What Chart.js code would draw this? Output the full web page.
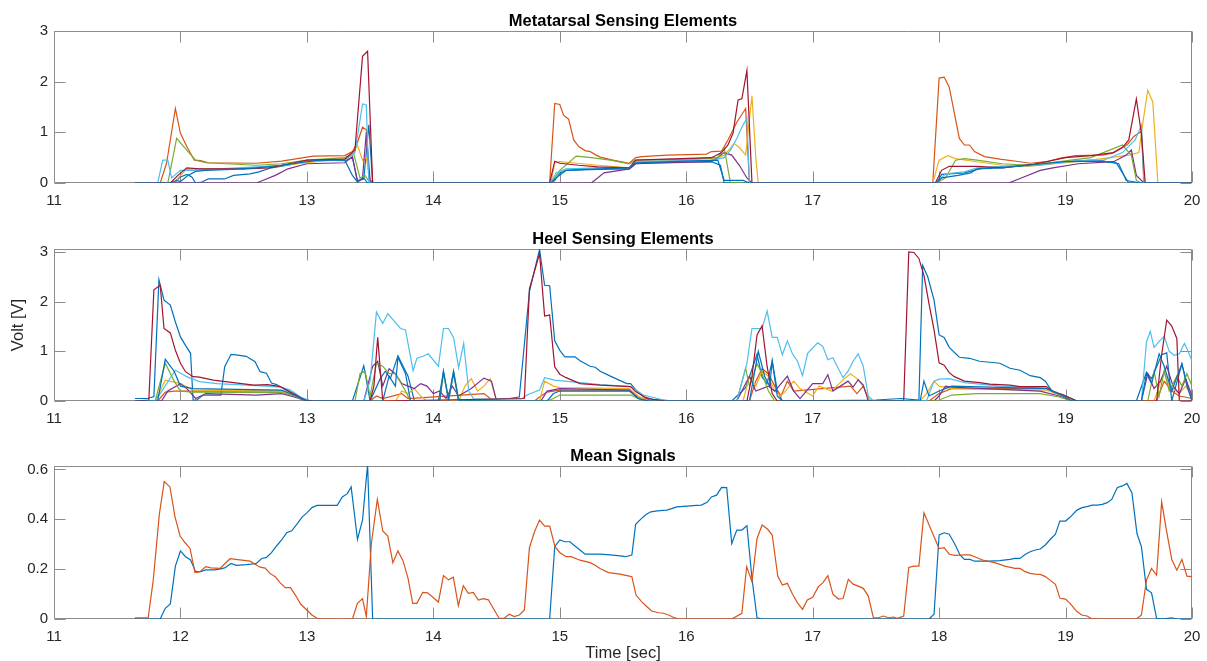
<!DOCTYPE html>
<html>
<head>
<meta charset="utf-8">
<script src="https://cdn.jsdelivr.net/npm/chart.js@4.4.1/dist/chart.umd.min.js"></script>
<style>
  body { margin: 0; background: #fff; }
  #wrap { position: relative; width: 1207px; height: 661px; background: #fff; }
  .plot { position: absolute; left: 0; width: 1207px; }
  #c1 { top: 0; height: 215px; }
  #c2 { top: 218px; height: 215px; }
  #c3 { top: 435px; height: 226px; }
</style>
</head>
<body>
<div id="wrap">
  <div class="plot" id="c1"><canvas id="metaChart"></canvas></div>
  <div class="plot" id="c2"><canvas id="heelChart"></canvas></div>
  <div class="plot" id="c3"><canvas id="meanChart"></canvas></div>
</div>
<script>
// ---------------------------------- data (time [sec], volt) ----------------------------------
const timeTicks = [11, 12, 13, 14, 15, 16, 17, 18, 19, 20];
const voltTicks = [0, 1, 2, 3];
const meanTicks = [0, 0.2, 0.4, 0.6];
const meanTickLabels = ['0', '0.2', '0.4', '0.6'];

// MATLAB default colour order
const lineColors = ['#0072BD', '#D95319', '#EDB120', '#7E2F8E', '#77AC30', '#4DBEEE', '#A2142F', '#0072BD'];

// --- metatarsal sensing elements ---
const metaBlue = [[11.64,0],[11.95,0],[12.0,0.12],[12.05,0.17],[12.09,0.12],[12.12,0],[12.17,0.02],[12.22,0.08],[12.35,0.08],[12.42,0.15],[12.55,0.18],[12.62,0.22],[12.72,0.3],[12.85,0.35],[13.0,0.42],[13.1,0.45],[13.3,0.44],[13.36,0.5],[13.4,0.05],[13.45,0.08],[13.49,1.15],[13.52,0],
  [14.92,0],[14.96,0.05],[15.0,0.2],[15.05,0.25],[15.3,0.27],[15.55,0.28],[15.6,0.38],[15.7,0.4],[16.2,0.42],[16.27,0.35],[16.3,0],
  [17.98,0],[18.02,0.17],[18.2,0.2],[18.35,0.3],[18.75,0.37],[19.0,0.42],[19.2,0.45],[19.4,0.4],[19.5,0],[20,0]];
const metaOrange = [[11.64,0],[11.84,0],[11.89,0.39],[11.96,1.47],[12.0,0.98],[12.05,0.72],[12.11,0.45],[12.16,0.44],[12.22,0.4],[12.6,0.39],[12.8,0.43],[12.95,0.49],[13.05,0.53],[13.3,0.54],[13.36,0.62],[13.4,0.8],[13.44,1.1],[13.47,1.05],[13.49,0.1],[13.52,0],
  [14.92,0],[14.96,1.57],[15.0,1.55],[15.03,1.34],[15.07,1.26],[15.11,0.85],[15.15,0.72],[15.2,0.64],[15.24,0.62],[15.28,0.56],[15.32,0.51],[15.42,0.45],[15.55,0.39],[15.6,0.5],[15.65,0.52],[15.85,0.55],[16.16,0.57],[16.2,0.62],[16.28,0.63],[16.33,0.85],[16.4,1.2],[16.47,1.47],[16.5,0],
  [17.95,0],[18.0,2.07],[18.04,2.09],[18.08,1.89],[18.16,0.88],[18.2,0.75],[18.24,0.75],[18.28,0.62],[18.36,0.52],[18.48,0.47],[18.64,0.42],[18.72,0.39],[18.85,0.42],[18.96,0.49],[19.08,0.54],[19.29,0.55],[19.37,0.59],[19.49,0.76],[19.54,0.92],[19.6,1.02],[19.62,0],[20,0]];
const metaYellow = [[11.64,0],[11.95,0],[12.0,0.15],[12.05,0.27],[12.15,0.28],[12.5,0.28],[12.7,0.32],[13.0,0.4],[13.3,0.48],[13.36,0.55],[13.4,0.75],[13.44,0.45],[13.47,0.5],[13.5,0.05],[13.53,0],
  [14.93,0],[14.96,0.4],[15.0,0.42],[15.1,0.4],[15.3,0.35],[15.55,0.3],[15.6,0.42],[16.0,0.45],[16.25,0.5],[16.3,0.55],[16.38,0.78],[16.42,0.7],[16.47,0.55],[16.52,1.72],[16.55,0.5],[16.57,0],
  [17.95,0],[18.0,0.45],[18.07,0.54],[18.13,0.48],[18.3,0.42],[18.5,0.35],[18.7,0.33],[19.0,0.4],[19.2,0.45],[19.5,0.55],[19.58,0.6],[19.6,1.0],[19.65,1.83],[19.69,1.6],[19.73,0],[20,0]];
const metaPurple = [[11.64,0],[12.6,0],[12.65,0.05],[12.75,0.15],[12.85,0.28],[13.0,0.38],[13.3,0.4],[13.36,0.52],[13.4,0.02],[13.44,0.1],[13.47,1.0],[13.5,0.05],[13.52,0],
  [15.25,0],[15.35,0.2],[15.55,0.28],[15.6,0.38],[16.2,0.42],[16.3,0.6],[16.36,0.55],[16.42,0.35],[16.48,0.1],[16.52,0],
  [18.55,0],[18.65,0.1],[18.8,0.25],[18.9,0.3],[19.1,0.38],[19.38,0.42],[19.48,0.55],[19.52,0.65],[19.56,0.15],[19.62,0],[20,0]];
const metaGreen = [[11.64,0],[11.9,0],[11.97,0.88],[12.05,0.65],[12.12,0.45],[12.2,0.4],[12.6,0.35],[12.8,0.38],[13.0,0.45],[13.3,0.5],[13.37,0.58],[13.42,0.1],[13.46,0.15],[13.5,0],
  [14.93,0],[15.0,0.25],[15.13,0.53],[15.25,0.5],[15.4,0.45],[15.55,0.38],[15.6,0.45],[16.0,0.47],[16.25,0.5],[16.3,0.7],[16.35,0],
  [17.98,0],[18.05,0.1],[18.13,0.45],[18.2,0.48],[18.3,0.45],[18.5,0.38],[18.7,0.35],[18.95,0.42],[19.2,0.5],[19.45,0.75],[19.52,0.55],[19.56,0.05],[19.6,0],[20,0]];
const metaLightBlue = [[11.64,0],[11.82,0],[11.86,0.45],[11.9,0.45],[11.93,0.1],[12.0,0.25],[12.1,0.25],[12.3,0.28],[12.6,0.32],[12.8,0.35],[13.0,0.43],[13.3,0.45],[13.38,0.6],[13.44,1.56],[13.47,1.54],[13.49,0],
  [14.93,0],[14.97,0.2],[15.05,0.28],[15.3,0.3],[15.55,0.3],[15.6,0.42],[16.2,0.45],[16.3,0.5],[16.35,0.65],[16.4,0.88],[16.44,1.1],[16.48,1.28],[16.5,0],
  [17.98,0],[18.05,0.18],[18.2,0.22],[18.3,0.3],[18.5,0.32],[18.8,0.35],[19.0,0.42],[19.3,0.45],[19.45,0.6],[19.55,0.85],[19.6,1.14],[19.62,0],[20,0]];
const metaDarkRed = [[11.64,0],[11.92,0],[11.98,0.15],[12.05,0.3],[12.15,0.28],[12.5,0.28],[12.7,0.3],[12.9,0.4],[13.0,0.45],[13.3,0.47],[13.38,0.65],[13.44,2.5],[13.48,2.6],[13.52,0],
  [14.92,0],[14.96,0.43],[15.0,0.39],[15.15,0.35],[15.3,0.32],[15.55,0.3],[15.6,0.45],[16.2,0.5],[16.28,0.6],[16.33,0.75],[16.37,0.98],[16.41,1.64],[16.44,1.66],[16.48,2.22],[16.52,0],
  [17.97,0],[18.02,0.25],[18.08,0.33],[18.3,0.33],[18.5,0.3],[18.75,0.37],[19.0,0.5],[19.2,0.54],[19.38,0.6],[19.45,0.7],[19.5,0.85],[19.56,1.66],[19.6,0.97],[19.63,0],[20,0]];
const metaBlue2 = [[11.64,0],[11.92,0],[11.97,0.05],[12.0,0.03],[12.06,0.15],[12.12,0.23],[12.2,0.25],[12.4,0.27],[12.6,0.3],[12.8,0.35],[13.0,0.42],[13.1,0.45],[13.3,0.45],[13.36,0.15],[13.4,0.02],[13.45,0.1],[13.48,0],
  [14.93,0],[14.97,0.1],[15.05,0.25],[15.2,0.27],[15.55,0.3],[15.6,0.4],[16.0,0.43],[16.25,0.45],[16.3,0.05],[16.45,0.05],[16.5,0],
  [17.98,0],[18.02,0.1],[18.15,0.15],[18.25,0.2],[18.3,0.28],[18.5,0.3],[18.7,0.35],[18.9,0.4],[19.0,0.42],[19.3,0.43],[19.42,0.38],[19.48,0.05],[19.55,0.02],[19.6,0],[20,0]];

// --- heel sensing elements ---
const heelBlue = [[11.64,0.05],[11.74,0.05],[11.79,0.09],[11.83,2.44],[11.87,2.03],[11.92,1.93],[11.96,1.59],[12.0,1.29],[12.04,1.12],[12.08,0.96],[12.1,0.02],[12.13,0.02],[12.18,0.12],[12.32,0.12],[12.35,0.69],[12.4,0.94],[12.44,0.93],[12.52,0.9],[12.59,0.79],[12.63,0.59],[12.68,0.56],[12.72,0.36],[12.76,0.33],[12.84,0.21],[12.88,0.16],[12.96,0.06],[13.03,0],
  [13.36,0],[13.45,0.71],[13.5,0],[13.58,0.45],[13.62,0.6],[13.66,0.45],[13.72,0.91],[13.8,0.5],[13.85,0],[14.04,0],[14.08,0.59],[14.12,0],[14.16,0.55],[14.2,0],[14.6,0.05],[14.68,0.08],
  [14.76,2.2],[14.8,2.63],[14.84,3.05],[14.88,2.33],[14.92,2.32],[14.96,1.21],[15.0,1.02],[15.04,0.89],[15.12,0.89],[15.16,0.81],[15.24,0.7],[15.28,0.68],[15.32,0.6],[15.4,0.5],[15.47,0.42],[15.53,0.35],[15.56,0.35],[15.6,0.23],[15.66,0.09],[15.74,0.03],[15.92,0],
  [16.36,0],[16.47,0.27],[16.56,0.94],[16.6,0.48],[16.64,0.35],[16.68,0.81],[16.72,0.21],[16.76,0],[17.5,0.02],[17.7,0.05],
  [17.84,0.02],[17.87,2.73],[17.91,2.5],[17.96,2.03],[18.0,1.33],[18.04,1.28],[18.08,1.08],[18.16,0.88],[18.24,0.86],[18.32,0.8],[18.4,0.78],[18.48,0.76],[18.56,0.66],[18.64,0.62],[18.72,0.51],[18.8,0.47],[18.84,0.4],[18.9,0.17],[18.98,0.13],[19.09,0],
  [19.56,0],[19.64,0.58],[19.68,0.45],[19.72,0.69],[19.76,0.93],[19.8,0.97],[19.84,0],[19.92,0.75],[19.96,0.35],[20,0]];
const heelOrange = [[11.64,0],[11.82,0],[11.88,0.18],[11.95,0.2],[12.8,0.2],[12.9,0.1],[13.0,0],
  [13.5,0],[13.55,0.1],[13.6,0.05],[13.75,0.15],[13.8,0.05],[14.4,0.15],[14.45,0.05],[14.5,0],
  [14.8,0],[14.85,0.1],[14.9,0.18],[15.0,0.22],[15.55,0.22],[15.62,0.08],[15.75,0],
  [16.5,0],[16.55,0.4],[16.6,0.65],[16.65,0.55],[16.7,0.3],[16.75,0.1],[16.8,0.4],[16.85,0.2],[17.3,0.3],[17.35,0.15],[17.4,0.3],[17.45,0],
  [17.92,0],[18.0,0.15],[18.1,0.25],[18.85,0.25],[19.0,0.1],[19.08,0],
  [19.72,0],[19.78,0.4],[19.84,0.2],[19.9,0.1],[20,0.05]];
const heelYellow = [[11.64,0],[11.8,0],[11.88,0.42],[12.0,0.35],[12.1,0.22],[12.8,0.2],[12.9,0.12],[13.0,0],
  [13.7,0],[13.75,0.2],[13.8,0.15],[13.85,0.25],[13.9,0.1],[13.95,0],[14.2,0],[14.25,0.3],[14.3,0.45],[14.35,0.2],[14.4,0.3],[14.45,0.45],[14.5,0],
  [14.84,0],[14.88,0.4],[14.95,0.3],[15.0,0.27],[15.55,0.25],[15.62,0.1],[15.7,0],
  [16.45,0],[16.5,0.5],[16.55,0.3],[16.6,0.6],[16.65,0.5],[16.7,0.2],[16.75,0.1],[16.85,0.4],[16.9,0.25],[17.0,0.1],[17.05,0.3],[17.15,0.2],[17.25,0.45],[17.3,0.55],[17.35,0.45],[17.4,0.3],[17.45,0],
  [17.85,0],[17.9,0.15],[17.96,0.4],[18.0,0.3],[18.1,0.25],[18.85,0.22],[18.98,0.1],[19.05,0],
  [19.7,0],[19.78,0.6],[19.82,0.3],[19.9,0.15],[19.95,0.3],[20,0.1]];
const heelPurple = [[11.64,0],[11.85,0],[11.9,0.2],[12.0,0.35],[12.05,0.25],[12.12,0.05],[12.2,0.15],[12.6,0.12],[12.8,0.15],[12.9,0.08],[13.0,0],
  [13.45,0],[13.52,0.7],[13.56,0.8],[13.6,0.3],[13.65,0.65],[13.7,0.55],[13.75,0.35],[13.8,0.3],[13.85,0.25],[13.9,0.35],[13.95,0.3],[14.0,0.15],[14.05,0.2],[14.1,0.05],[14.15,0.3],[14.2,0.1],[14.3,0.25],[14.4,0.46],[14.46,0.4],[14.5,0],
  [14.85,0],[14.9,0.2],[15.0,0.25],[15.55,0.22],[15.62,0.05],[15.7,0],
  [16.4,0],[16.5,0.5],[16.55,0.2],[16.65,0.3],[16.7,0.2],[16.8,0.5],[16.85,0.2],[16.9,0.05],[17.0,0.35],[17.08,0.35],[17.12,0.53],[17.16,0.2],[17.28,0.4],[17.32,0.28],[17.36,0.43],[17.4,0.32],[17.44,0],
  [17.96,0],[18.0,0.1],[18.05,0.3],[18.1,0.28],[18.8,0.2],[18.95,0.1],[19.05,0],
  [19.6,0],[19.65,0.55],[19.7,0.25],[19.75,0.4],[19.8,0.7],[19.85,0.3],[19.9,0.15],[19.95,0.45],[20,0.1]];
const heelGreen = [[11.64,0],[11.8,0],[11.88,0.76],[11.95,0.4],[12.0,0.2],[12.1,0.18],[12.8,0.17],[12.9,0.1],[13.0,0],
  [13.38,0],[13.42,0.55],[13.46,0.6],[13.5,0.1],[13.55,0.75],[13.6,0.7],[13.65,0.55],[13.7,0.55],[13.78,0.2],[13.82,0],[14.05,0],[14.08,0.55],[14.12,0.05],[14.16,0.6],[14.2,0.05],[14.25,0],
  [14.9,0],[14.95,0.05],[15.0,0.12],[15.56,0.12],[15.62,0.05],[15.7,0],
  [16.4,0],[16.47,0.66],[16.5,0.3],[16.56,0.75],[16.6,0.55],[16.65,0.2],[16.7,0],
  [17.95,0],[18.0,0.02],[18.1,0.12],[18.3,0.15],[18.8,0.15],[18.95,0.08],[19.05,0],
  [19.65,0],[19.7,0.6],[19.74,0.1],[19.78,0.6],[19.82,0.2],[19.88,0.5],[19.92,0.3],[19.96,0.55],[20,0.3]];
const heelLightBlue = [[11.64,0],[11.8,0],[11.84,0.15],[11.96,0.62],[12.05,0.49],[12.15,0.39],[12.29,0.35],[12.68,0.3],[12.79,0.28],[12.87,0.22],[12.95,0.08],[13.03,0],
  [13.45,0],[13.5,0.4],[13.55,1.79],[13.6,1.56],[13.64,1.76],[13.74,1.46],[13.78,1.43],[13.84,0.61],[13.87,0.86],[13.92,0.9],[13.96,0.95],[14.04,0.7],[14.08,1.46],[14.12,1.46],[14.16,1.28],[14.2,0.67],[14.24,1.16],[14.28,0.2],[14.32,0.04],[14.7,0.04],
  [14.74,0.12],[14.84,0.22],[14.88,0.47],[14.96,0.42],[15.32,0.33],[15.56,0.29],[15.66,0.12],[15.82,0.02],[15.9,0],
  [16.4,0],[16.48,0.76],[16.52,1.46],[16.6,1.46],[16.64,1.81],[16.68,1.28],[16.72,1.28],[16.76,0.93],[16.8,1.21],[16.84,0.95],[16.88,0.8],[16.92,0.51],[16.96,0.96],[17.04,1.17],[17.08,1.1],[17.12,0.83],[17.16,0.87],[17.24,0.47],[17.28,0.6],[17.32,0.8],[17.36,0.95],[17.4,0.7],[17.44,0.1],[17.48,0],
  [17.9,0],[17.96,0.4],[18.0,0.44],[18.08,0.45],[18.2,0.37],[18.48,0.3],[18.85,0.26],[18.98,0.12],[19.09,0],
  [19.6,0],[19.64,1.19],[19.67,1.4],[19.7,1.08],[19.74,1.2],[19.78,1.3],[19.82,1.0],[19.86,0.92],[19.9,0.95],[19.94,1.16],[19.97,1.0],[20,0.8]];
const heelDarkRed = [[11.64,0],[11.75,0.02],[11.79,2.24],[11.84,2.33],[11.87,1.46],[11.92,1.37],[11.96,1.02],[12.0,0.76],[12.04,0.59],[12.1,0.49],[12.15,0.48],[12.26,0.42],[12.42,0.37],[12.58,0.32],[12.69,0.33],[12.79,0.29],[12.9,0.14],[12.98,0.02],[13.06,0],
  [13.5,0],[13.53,0.3],[13.56,1.28],[13.6,0],[14.72,0.05],
  [14.76,2.26],[14.84,2.97],[14.88,1.71],[14.92,1.73],[14.96,0.69],[15.0,0.54],[15.05,0.47],[15.16,0.35],[15.32,0.32],[15.56,0.29],[15.6,0.19],[15.69,0.05],[15.84,0],
  [16.48,0],[16.52,0.5],[16.56,1.33],[16.6,1.51],[16.64,0.69],[16.68,0.15],[16.72,0],
  [17.72,0],[17.76,3.0],[17.8,2.99],[17.84,2.87],[17.88,2.53],[17.92,1.96],[17.96,1.43],[18.0,0.77],[18.04,0.72],[18.08,0.57],[18.12,0.49],[18.2,0.4],[18.32,0.37],[18.4,0.34],[18.56,0.32],[18.64,0.29],[18.85,0.29],[18.9,0.19],[18.98,0.12],[19.09,0],
  [19.72,0],[19.76,0.93],[19.8,1.63],[19.84,1.51],[19.88,1.26],[19.9,0],[20,0]];
const heelBlue2 = [[11.64,0],[11.82,0],[11.88,0.84],[11.95,0.6],[12.0,0.3],[12.1,0.25],[12.8,0.22],[12.9,0.12],[13.0,0],
  [13.6,0],[13.65,0.5],[13.7,0.3],[13.72,0.88],[13.78,0.55],[13.82,0],[14.05,0],[14.08,0.6],[14.12,0.05],[14.16,0.6],[14.2,0],
  [14.9,0],[14.95,0.15],[15.0,0.2],[15.55,0.2],[15.62,0.05],[15.7,0],
  [16.5,0],[16.57,1.0],[16.62,0.5],[16.66,0.3],[16.68,0.8],[16.72,0.1],[16.76,0],
  [17.85,0],[17.88,0.4],[17.92,0.1],[18.0,0.2],[18.1,0.3],[18.85,0.25],[18.98,0.1],[19.05,0],
  [19.6,0],[19.64,0.55],[19.68,0.35],[19.74,0.95],[19.78,0.7],[19.84,0.2],[19.92,0.75],[19.96,0.3],[20,0]];

// --- mean signals ---
const meanMetatarsal = [[11.64,0],[11.84,0],[11.88,0.043],[11.92,0.06],[11.96,0.212],[12.0,0.273],[12.04,0.25],[12.08,0.237],[12.12,0.19],[12.16,0.19],[12.2,0.197],[12.27,0.197],[12.31,0.2],[12.35,0.205],[12.4,0.223],[12.44,0.215],[12.52,0.218],[12.56,0.22],[12.6,0.223],[12.64,0.242],[12.68,0.247],[12.72,0.266],[12.76,0.293],[12.8,0.317],[12.84,0.346],[12.88,0.354],[12.92,0.38],[12.96,0.408],[13.0,0.426],[13.04,0.447],[13.08,0.456],[13.24,0.456],[13.28,0.49],[13.32,0.503],[13.35,0.53],[13.4,0.32],[13.44,0.397],[13.48,0.62],[13.52,0],
  [14.92,0],[14.96,0.29],[15.0,0.317],[15.04,0.31],[15.08,0.31],[15.12,0.293],[15.16,0.277],[15.2,0.26],[15.32,0.26],[15.4,0.257],[15.48,0.253],[15.52,0.25],[15.57,0.257],[15.6,0.38],[15.645,0.403],[15.685,0.42],[15.72,0.43],[15.77,0.434],[15.845,0.437],[15.885,0.443],[15.925,0.45],[16.005,0.453],[16.08,0.456],[16.12,0.457],[16.165,0.468],[16.2,0.49],[16.24,0.497],[16.28,0.528],[16.32,0.527],[16.36,0.303],[16.4,0.357],[16.44,0.357],[16.48,0.374],[16.52,0.163],[16.56,0.005],[16.6,0],
  [17.92,0],[17.96,0.019],[18.0,0.337],[18.04,0.346],[18.08,0.34],[18.125,0.3],[18.165,0.257],[18.2,0.239],[18.245,0.239],[18.28,0.232],[18.4,0.232],[18.48,0.234],[18.56,0.239],[18.6,0.243],[18.64,0.243],[18.68,0.259],[18.72,0.27],[18.76,0.277],[18.8,0.281],[18.84,0.297],[18.88,0.32],[18.92,0.34],[18.955,0.393],[19.0,0.393],[19.035,0.408],[19.09,0.437],[19.13,0.447],[19.17,0.451],[19.21,0.457],[19.25,0.457],[19.29,0.46],[19.33,0.467],[19.365,0.48],[19.41,0.528],[19.45,0.534],[19.485,0.544],[19.525,0.506],[19.565,0.343],[19.6,0.29],[19.64,0.119],[19.68,0.105],[19.72,0.003],[19.76,0],[19.84,0.005],[19.88,0],[20,0]];
const meanHeel = [[11.64,0.005],[11.745,0.005],[11.785,0.156],[11.833,0.42],[11.872,0.552],[11.917,0.53],[11.957,0.41],[11.997,0.333],[12.037,0.306],[12.076,0.283],[12.115,0.186],[12.155,0.19],[12.2,0.21],[12.24,0.205],[12.313,0.203],[12.392,0.242],[12.47,0.237],[12.55,0.232],[12.59,0.22],[12.63,0.208],[12.67,0.204],[12.708,0.183],[12.75,0.17],[12.787,0.146],[12.83,0.126],[12.87,0.126],[12.914,0.092],[12.95,0.06],[13.0,0.036],[13.04,0.016],[13.08,0.003],[13.12,0],[13.36,0],[13.4,0.063],[13.44,0.082],[13.47,0.01],[13.51,0.303],[13.557,0.48],[13.6,0.353],[13.64,0.333],[13.68,0.226],[13.72,0.273],[13.76,0.234],[13.8,0.163],[13.837,0.063],[13.87,0.063],[13.916,0.107],[13.955,0.105],[14.04,0.068],[14.08,0.174],[14.12,0.157],[14.158,0.168],[14.198,0.054],[14.237,0.134],[14.277,0.103],[14.316,0.107],[14.356,0.076],[14.395,0.082],[14.435,0.077],[14.474,0.043],[14.52,0.003],[14.56,0.003],[14.6,0.019],[14.64,0.01],[14.68,0.016],[14.72,0.036],[14.76,0.286],[14.8,0.35],[14.84,0.397],[14.88,0.373],[14.92,0.373],[14.962,0.29],[15.0,0.267],[15.05,0.25],[15.09,0.25],[15.16,0.236],[15.24,0.226],[15.28,0.216],[15.318,0.203],[15.385,0.186],[15.476,0.18],[15.54,0.173],[15.57,0.17],[15.603,0.096],[15.647,0.07],[15.687,0.05],[15.727,0.032],[15.78,0.025],[15.82,0.023],[15.86,0.016],[15.898,0.007],[15.94,0],[16.36,0],[16.44,0.023],[16.478,0.21],[16.52,0.15],[16.56,0.323],[16.6,0.377],[16.644,0.36],[16.68,0.337],[16.724,0.172],[16.76,0.136],[16.8,0.143],[16.84,0.1],[16.88,0.065],[16.92,0.039],[16.958,0.076],[17.0,0.087],[17.045,0.13],[17.08,0.145],[17.12,0.174],[17.16,0.1],[17.203,0.08],[17.24,0.082],[17.282,0.159],[17.32,0.14],[17.36,0.132],[17.4,0.123],[17.44,0.092],[17.48,0.005],[17.52,0.005],[17.56,0.012],[17.6,0.005],[17.64,0.008],[17.67,0.003],[17.72,0.012],[17.76,0.207],[17.8,0.212],[17.84,0.212],[17.88,0.426],[18.0,0.283],[18.04,0.286],[18.08,0.26],[18.126,0.255],[18.2,0.257],[18.245,0.257],[18.28,0.25],[18.36,0.234],[18.44,0.226],[18.52,0.212],[18.6,0.203],[18.64,0.203],[18.68,0.19],[18.72,0.183],[18.76,0.18],[18.8,0.179],[18.84,0.17],[18.877,0.156],[18.92,0.139],[18.956,0.083],[19.0,0.08],[19.035,0.063],[19.09,0.03],[19.128,0.016],[19.17,0.012],[19.21,0],[19.56,0],[19.6,0.016],[19.64,0.156],[19.68,0.203],[19.72,0.176],[19.76,0.47],[19.8,0.35],[19.84,0.239],[19.88,0.196],[19.92,0.239],[19.96,0.172],[20,0.17]];

const metaSeries = [metaBlue, metaOrange, metaYellow, metaPurple, metaGreen, metaLightBlue, metaDarkRed, metaBlue2];
const heelSeries = [heelBlue, heelOrange, heelYellow, heelPurple, heelGreen, heelLightBlue, heelDarkRed, heelBlue2];
const meanSeries = [meanMetatarsal, meanHeel];

// ------------------------------------ styling helpers ------------------------------------
const fontFamily = "'Liberation Sans', Arial, Helvetica, sans-serif";
const textColor = '#262626';
const frameColor = '#8c8c8c';
const tickLen = 11;

Chart.defaults.font.family = fontFamily;
Chart.defaults.font.size = 15;
Chart.defaults.color = textColor;

// box round the axes with inward ticks on all four sides (like MATLAB "box on")
const framePlugin = {
    id: 'frame',
    beforeDatasetsDraw(chart) {
        const ctx = chart.ctx;
        const a = chart.chartArea;
        const xs = chart.scales.x;
        const ys = chart.scales.y;
        const l = Math.round(a.left) + 0.5, r = Math.round(a.right) - 0.5;
        const t = Math.round(a.top) + 0.5, b = Math.round(a.bottom) - 0.5;
        ctx.save();
        ctx.strokeStyle = frameColor;
        ctx.lineWidth = 1;
        ctx.beginPath();
        ctx.rect(l, t, r - l, b - t);
        xs.ticks.forEach(tk => {
            const px = Math.round(xs.getPixelForValue(tk.value)) + 0.5;
            ctx.moveTo(px, b); ctx.lineTo(px, b - tickLen);
            ctx.moveTo(px, t); ctx.lineTo(px, t + tickLen);
        });
        ys.ticks.forEach(tk => {
            const py = Math.round(ys.getPixelForValue(tk.value)) + 0.5;
            ctx.moveTo(l, py); ctx.lineTo(l + tickLen, py);
            ctx.moveTo(r, py); ctx.lineTo(r - tickLen, py);
        });
        ctx.stroke();
        ctx.restore();
    }
};

// title centred over the axes box, not over the whole canvas
const axesTitlePlugin = {
    id: 'axesTitle',
    afterDraw(chart, args, opts) {
        const ctx = chart.ctx;
        const a = chart.chartArea;
        ctx.save();
        ctx.font = 'bold 16.5px ' + fontFamily;
        ctx.fillStyle = '#000';
        ctx.textAlign = 'center';
        ctx.textBaseline = 'middle';
        ctx.fillText(opts.text, (a.left + a.right) / 2, a.top - 10);
        ctx.restore();
    }
};

function makeChart(id, title, series, yMax, yTicks, yLabels, yTitle, xTitle, xHeight) {
    const datasets = series.map((s, i) => ({
        data: s.map(p => ({ x: p[0], y: p[1] })),
        borderColor: lineColors[i],
        borderWidth: 1.2,
        pointRadius: 0,
        tension: 0,
        fill: false,
        order: series.length - i  // later series drawn on top, like MATLAB
    }));

    return new Chart(id, {
        type: 'line',
        data: { datasets: datasets },
        options: {
            responsive: true,
            maintainAspectRatio: false,
            animation: false,
            layout: { padding: { left: 0, right: 15, top: 31, bottom: 0 } },
            plugins: {
                legend: { display: false },
                tooltip: { enabled: false },
                title: { display: false },
                axesTitle: { text: title }
            },
            scales: {
                x: {
                    type: 'linear',
                    min: 11,
                    max: 20,
                    // tick marks themselves are drawn by framePlugin; tickLength only offsets the labels
                    grid: { display: false, drawTicks: true, tickLength: 3 },
                    border: { display: false },
                    afterBuildTicks: s => { s.ticks = timeTicks.map(v => ({ value: v })); },
                    afterFit: s => { s.height = xHeight; },
                    ticks: { padding: 6, maxRotation: 0, color: textColor, callback: v => String(v) },
                    title: {
                        display: !!xTitle,
                        text: xTitle || '',
                        color: textColor,
                        font: { size: 16.5 },
                        padding: { top: 0, bottom: -2 }
                    }
                },
                y: {
                    type: 'linear',
                    min: 0,
                    max: yMax,
                    grid: { display: false, drawTicks: false },
                    border: { display: false },
                    afterBuildTicks: s => { s.ticks = yTicks.map(v => ({ value: v })); },
                    afterFit: s => { s.width = 54; },
                    ticks: {
                        padding: 6,
                        color: textColor,
                        callback: (v, i) => yLabels[i]
                    },
                    title: {
                        display: !!yTitle,
                        text: yTitle || '',
                        color: textColor,
                        font: { size: 16.5 },
                        padding: { top: 9, bottom: 0 }
                    }
                }
            }
        },
        plugins: [framePlugin, axesTitlePlugin]
    });
}

makeChart('metaChart', 'Metatarsal Sensing Elements', metaSeries, 3, voltTicks, voltTicks.map(String), null, null, 32);
makeChart('heelChart', 'Heel Sensing Elements', heelSeries, 3.06, voltTicks, voltTicks.map(String), 'Volt [V]', null, 32);
makeChart('meanChart', 'Mean Signals', meanSeries, 0.614, meanTicks, meanTickLabels, null, 'Time [sec]', 42);
</script>
</body>
</html>
